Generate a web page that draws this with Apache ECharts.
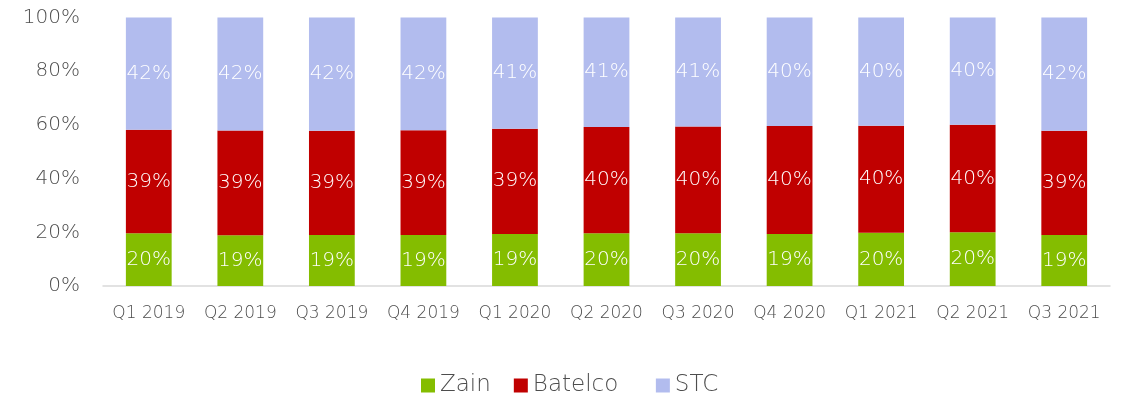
<!DOCTYPE html>
<html>
<head>
<meta charset="utf-8">
<script src="https://cdn.jsdelivr.net/npm/echarts@6/dist/echarts.min.js"></script>
<style>
html,body{margin:0;padding:0;background:#fff;}
#c{width:1127px;height:400px;}
</style>
</head>
<body>
<div id="c"></div>
<script>
const categories = ['Q1 2019','Q2 2019','Q3 2019','Q4 2019','Q1 2020','Q2 2020','Q3 2020','Q4 2020','Q1 2021','Q2 2021','Q3 2021'];
const zain    = [19.6, 18.9, 19.0, 19.0, 19.4, 19.6, 19.6, 19.4, 19.8, 20.0, 19.0];
const batelco = [38.6, 39.0, 38.8, 39.0, 39.2, 39.6, 39.8, 40.2, 39.9, 40.1, 38.8];
const stc     = [41.8, 42.1, 42.2, 42.0, 41.4, 40.8, 40.6, 40.4, 40.3, 39.9, 42.2];
const yTicks  = [0, 20, 40, 60, 80, 100];

const FONT = '"DejaVu Sans", sans-serif';
const W = 200;
const TXT = '#4d4d4d';
const chart = echarts.init(document.getElementById('c'), null, {renderer:'canvas'});

function mk(name, data, color){
  return {
    name, type:'bar', stack:'total', data,
    barCategoryGap:'50%',
    itemStyle:{color},
    label:{show:true, position:'inside', color:'#fff', fontFamily:FONT, fontWeight:W, fontSize:20,
      formatter: p => Math.round(p.value) + '%'},
    emphasis:{disabled:true}
  };
}

chart.setOption({
  animation:false,
  textStyle:{fontFamily:FONT},
  grid:{left:103, right:17, top:17.5, bottom:114, containLabel:false},
  legend:{
    left:421, top:374, padding:0, itemWidth:14, itemHeight:14, itemGap:23,
    icon:'rect',
    formatter: n => n === 'Batelco' ? n + '\u00a0\u00a0' : n,
    textStyle:{color:TXT, fontSize:23, fontFamily:FONT, fontWeight:W},
    data:['Zain','Batelco','STC']
  },
  xAxis:{
    type:'category', data:categories,
    axisLine:{lineStyle:{color:'#D9D9D9', width:1.5}},
    axisTick:{show:false},
    axisLabel:{color:TXT, fontSize:17, fontFamily:FONT, fontWeight:W, margin:19, interval:0}
  },
  yAxis:{
    type:'value', min:yTicks[0], max:yTicks[yTicks.length-1], interval:20,
    axisLine:{show:false}, axisTick:{show:false}, splitLine:{show:false},
    axisLabel:{color:TXT, fontSize:20, fontFamily:FONT, fontWeight:W, margin:23, formatter: v => v + '%'}
  },
  series:[mk('Zain', zain, '#84BD00'), mk('Batelco', batelco, '#C00000'), mk('STC', stc, '#B2BCEE')]
});
</script>
</body>
</html>
